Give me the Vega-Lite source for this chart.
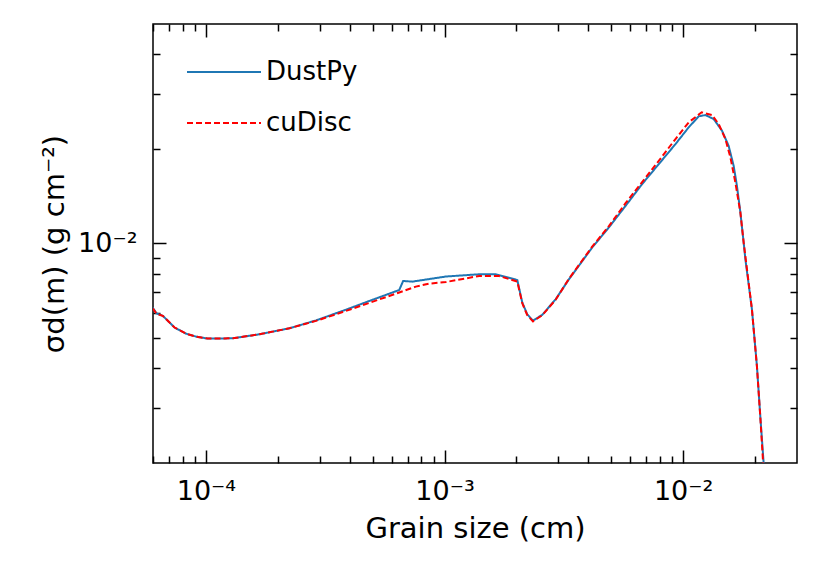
{
  "$schema": "https://vega.github.io/schema/vega-lite/v6.json",
  "width": 644,
  "height": 439,
  "autosize": {"type": "none"},
  "padding": {"left": 153, "top": 24, "right": 25, "bottom": 113},
  "background": "white",
  "config": {
    "view": {"stroke": "black", "strokeWidth": 1.5},
    "font": "DejaVu Sans",
    "axis": {
      "grid": false,
      "domain": false,
      "tickColor": "black",
      "tickWidth": 1.5,
      "labelFont": "DejaVu Sans",
      "labelFontSize": 27,
      "labelColor": "black",
      "titleFont": "DejaVu Sans",
      "titleFontSize": 29,
      "titleFontWeight": "normal",
      "titleColor": "black",
      "labelOverlap": false,
      "labelBound": false,
      "labelFlush": false
    }
  },
  "datasets": {
    "curves": [
      {"size": 5.98e-5, "sigma": 6.25e-3, "code": "DustPy"},
      {"size": 6.21e-5, "sigma": 5.99e-3, "code": "DustPy"},
      {"size": 6.60e-5, "sigma": 5.88e-3, "code": "DustPy"},
      {"size": 6.82e-5, "sigma": 5.74e-3, "code": "DustPy"},
      {"size": 7.39e-5, "sigma": 5.40e-3, "code": "DustPy"},
      {"size": 8.27e-5, "sigma": 5.16e-3, "code": "DustPy"},
      {"size": 9.11e-5, "sigma": 5.05e-3, "code": "DustPy"},
      {"size": 1.018e-4, "sigma": 4.98e-3, "code": "DustPy"},
      {"size": 1.296e-4, "sigma": 4.99e-3, "code": "DustPy"},
      {"size": 1.676e-4, "sigma": 5.14e-3, "code": "DustPy"},
      {"size": 2.238e-4, "sigma": 5.37e-3, "code": "DustPy"},
      {"size": 2.893e-4, "sigma": 5.69e-3, "code": "DustPy"},
      {"size": 3.740e-4, "sigma": 6.10e-3, "code": "DustPy"},
      {"size": 4.835e-4, "sigma": 6.56e-3, "code": "DustPy"},
      {"size": 6.457e-4, "sigma": 7.11e-3, "code": "DustPy"},
      {"size": 6.71e-4, "sigma": 7.60e-3, "code": "DustPy"},
      {"size": 7.32e-4, "sigma": 7.56e-3, "code": "DustPy"},
      {"size": 1.013e-3, "sigma": 7.85e-3, "code": "DustPy"},
      {"size": 1.396e-3, "sigma": 7.98e-3, "code": "DustPy"},
      {"size": 1.639e-3, "sigma": 7.98e-3, "code": "DustPy"},
      {"size": 2.018e-3, "sigma": 7.65e-3, "code": "DustPy"},
      {"size": 2.118e-3, "sigma": 6.48e-3, "code": "DustPy"},
      {"size": 2.222e-3, "sigma": 5.95e-3, "code": "DustPy"},
      {"size": 2.348e-3, "sigma": 5.68e-3, "code": "DustPy"},
      {"size": 2.568e-3, "sigma": 5.93e-3, "code": "DustPy"},
      {"size": 2.921e-3, "sigma": 6.64e-3, "code": "DustPy"},
      {"size": 3.321e-3, "sigma": 7.69e-3, "code": "DustPy"},
      {"size": 3.658e-3, "sigma": 8.50e-3, "code": "DustPy"},
      {"size": 4.157e-3, "sigma": 9.71e-3, "code": "DustPy"},
      {"size": 4.883e-3, "sigma": 1.125e-2, "code": "DustPy"},
      {"size": 5.737e-3, "sigma": 1.318e-2, "code": "DustPy"},
      {"size": 6.730e-3, "sigma": 1.546e-2, "code": "DustPy"},
      {"size": 7.904e-3, "sigma": 1.790e-2, "code": "DustPy"},
      {"size": 9.285e-3, "sigma": 2.073e-2, "code": "DustPy"},
      {"size": 1.055e-2, "sigma": 2.344e-2, "code": "DustPy"},
      {"size": 1.162e-2, "sigma": 2.541e-2, "code": "DustPy"},
      {"size": 1.240e-2, "sigma": 2.565e-2, "code": "DustPy"},
      {"size": 1.343e-2, "sigma": 2.490e-2, "code": "DustPy"},
      {"size": 1.455e-2, "sigma": 2.286e-2, "code": "DustPy"},
      {"size": 1.551e-2, "sigma": 2.047e-2, "code": "DustPy"},
      {"size": 1.628e-2, "sigma": 1.768e-2, "code": "DustPy"},
      {"size": 1.680e-2, "sigma": 1.527e-2, "code": "DustPy"},
      {"size": 1.737e-2, "sigma": 1.256e-2, "code": "DustPy"},
      {"size": 1.793e-2, "sigma": 1.007e-2, "code": "DustPy"},
      {"size": 1.823e-2, "sigma": 8.91e-3, "code": "DustPy"},
      {"size": 1.942e-2, "sigma": 6.17e-3, "code": "DustPy"},
      {"size": 2.038e-2, "sigma": 4.07e-3, "code": "DustPy"},
      {"size": 2.105e-2, "sigma": 2.82e-3, "code": "DustPy"},
      {"size": 2.174e-2, "sigma": 2.003e-3, "code": "DustPy"},
      {"size": 2.19e-2, "sigma": 1.9e-3, "code": "DustPy"},
      {"size": 5.98e-5, "sigma": 6.22e-3, "code": "cuDisc"},
      {"size": 6.21e-5, "sigma": 5.97e-3, "code": "cuDisc"},
      {"size": 6.60e-5, "sigma": 5.88e-3, "code": "cuDisc"},
      {"size": 6.82e-5, "sigma": 5.74e-3, "code": "cuDisc"},
      {"size": 7.39e-5, "sigma": 5.40e-3, "code": "cuDisc"},
      {"size": 8.27e-5, "sigma": 5.16e-3, "code": "cuDisc"},
      {"size": 9.11e-5, "sigma": 5.05e-3, "code": "cuDisc"},
      {"size": 1.018e-4, "sigma": 4.98e-3, "code": "cuDisc"},
      {"size": 1.296e-4, "sigma": 4.99e-3, "code": "cuDisc"},
      {"size": 1.676e-4, "sigma": 5.14e-3, "code": "cuDisc"},
      {"size": 2.238e-4, "sigma": 5.37e-3, "code": "cuDisc"},
      {"size": 2.893e-4, "sigma": 5.67e-3, "code": "cuDisc"},
      {"size": 3.740e-4, "sigma": 6.05e-3, "code": "cuDisc"},
      {"size": 4.835e-4, "sigma": 6.47e-3, "code": "cuDisc"},
      {"size": 6.457e-4, "sigma": 6.98e-3, "code": "cuDisc"},
      {"size": 7.58e-4, "sigma": 7.29e-3, "code": "cuDisc"},
      {"size": 8.62e-4, "sigma": 7.45e-3, "code": "cuDisc"},
      {"size": 1.013e-3, "sigma": 7.54e-3, "code": "cuDisc"},
      {"size": 1.396e-3, "sigma": 7.88e-3, "code": "cuDisc"},
      {"size": 1.692e-3, "sigma": 7.88e-3, "code": "cuDisc"},
      {"size": 2.018e-3, "sigma": 7.56e-3, "code": "cuDisc"},
      {"size": 2.118e-3, "sigma": 6.45e-3, "code": "cuDisc"},
      {"size": 2.222e-3, "sigma": 5.91e-3, "code": "cuDisc"},
      {"size": 2.348e-3, "sigma": 5.65e-3, "code": "cuDisc"},
      {"size": 2.568e-3, "sigma": 5.91e-3, "code": "cuDisc"},
      {"size": 2.921e-3, "sigma": 6.62e-3, "code": "cuDisc"},
      {"size": 3.321e-3, "sigma": 7.72e-3, "code": "cuDisc"},
      {"size": 4.157e-3, "sigma": 9.77e-3, "code": "cuDisc"},
      {"size": 4.883e-3, "sigma": 1.136e-2, "code": "cuDisc"},
      {"size": 5.737e-3, "sigma": 1.344e-2, "code": "cuDisc"},
      {"size": 6.730e-3, "sigma": 1.569e-2, "code": "cuDisc"},
      {"size": 7.904e-3, "sigma": 1.834e-2, "code": "cuDisc"},
      {"size": 9.285e-3, "sigma": 2.151e-2, "code": "cuDisc"},
      {"size": 1.055e-2, "sigma": 2.431e-2, "code": "cuDisc"},
      {"size": 1.196e-2, "sigma": 2.617e-2, "code": "cuDisc"},
      {"size": 1.321e-2, "sigma": 2.565e-2, "code": "cuDisc"},
      {"size": 1.409e-2, "sigma": 2.401e-2, "code": "cuDisc"},
      {"size": 1.503e-2, "sigma": 2.151e-2, "code": "cuDisc"},
      {"size": 1.577e-2, "sigma": 1.884e-2, "code": "cuDisc"},
      {"size": 1.655e-2, "sigma": 1.565e-2, "code": "cuDisc"},
      {"size": 1.737e-2, "sigma": 1.256e-2, "code": "cuDisc"},
      {"size": 1.793e-2, "sigma": 1.007e-2, "code": "cuDisc"},
      {"size": 1.942e-2, "sigma": 6.17e-3, "code": "cuDisc"},
      {"size": 2.038e-2, "sigma": 4.06e-3, "code": "cuDisc"},
      {"size": 2.105e-2, "sigma": 2.81e-3, "code": "cuDisc"},
      {"size": 2.163e-2, "sigma": 2.007e-3, "code": "cuDisc"},
      {"size": 2.18e-2, "sigma": 1.9e-3, "code": "cuDisc"}
    ]
  },
  "data": {"name": "curves"},
  "layer": [
    {
      "mark": {"type": "line", "strokeWidth": 2, "clip": true},
      "encoding": {
        "x": {
          "field": "size",
          "type": "quantitative",
          "scale": {"type": "log", "domain": [6e-5, 0.03], "nice": false},
          "axis": {
            "orient": "bottom",
            "title": "Grain size (cm)",
            "titlePadding": 4,
            "values": [6e-5, 7e-5, 8e-5, 9e-5, 1e-4, 2e-4, 3e-4, 4e-4, 5e-4, 6e-4, 7e-4, 8e-4, 9e-4, 1e-3, 2e-3, 3e-3, 4e-3, 5e-3, 6e-3, 7e-3, 8e-3, 9e-3, 1e-2, 2e-2],
            "labelExpr": "abs(datum.value - 1e-4) < 1e-9 ? '10⁻⁴' : abs(datum.value - 1e-3) < 1e-8 ? '10⁻³' : abs(datum.value - 1e-2) < 1e-7 ? '10⁻²' : ''",
            "tickSize": {"condition": {"test": "abs(datum.value - 1e-4) < 1e-9 || abs(datum.value - 1e-3) < 1e-8 || abs(datum.value - 1e-2) < 1e-7", "value": -13}, "value": -7},
            "labelPadding": 28
          }
        },
        "y": {
          "field": "sigma",
          "type": "quantitative",
          "scale": {"type": "log", "domain": [0.002, 0.05], "nice": false},
          "axis": {
            "orient": "left",
            "title": "σd(m)  (g cm⁻²)",
            "titlePadding": 8,
            "values": [3e-3, 4e-3, 5e-3, 6e-3, 7e-3, 8e-3, 9e-3, 1e-2, 2e-2, 3e-2, 4e-2],
            "labelExpr": "abs(datum.value - 1e-2) < 1e-7 ? '10⁻²' : ''",
            "tickSize": {"condition": {"test": "abs(datum.value - 1e-2) < 1e-7", "value": -13}, "value": -7},
            "labelPadding": 29
          }
        },
        "color": {
          "field": "code",
          "type": "nominal",
          "scale": {"domain": ["DustPy", "cuDisc"], "range": ["#1f77b4", "#ff0000"]},
          "legend": {
            "title": null,
            "orient": "none",
            "legendX": 33,
            "legendY": 10,
            "symbolType": "stroke",
            "symbolSize": 5476,
            "symbolStrokeWidth": 2,
            "labelFont": "DejaVu Sans",
            "labelFontSize": 26,
            "labelColor": "black",
            "labelOffset": 4,
            "rowPadding": 0
          }
        },
        "strokeDash": {
          "field": "code",
          "type": "nominal",
          "scale": {"domain": ["DustPy", "cuDisc"], "range": [[1, 0], [6, 3]]},
          "legend": null
        }
      }
    },
    {
      "mark": {"type": "line", "strokeOpacity": 0, "clip": true},
      "encoding": {
        "x": {
          "field": "size",
          "type": "quantitative",
          "scale": {"type": "log", "domain": [6e-5, 0.03], "nice": false},
          "axis": {
            "orient": "top",
            "title": null,
            "labels": false,
            "values": [6e-5, 7e-5, 8e-5, 9e-5, 1e-4, 2e-4, 3e-4, 4e-4, 5e-4, 6e-4, 7e-4, 8e-4, 9e-4, 1e-3, 2e-3, 3e-3, 4e-3, 5e-3, 6e-3, 7e-3, 8e-3, 9e-3, 1e-2, 2e-2],
            "tickSize": {"condition": {"test": "abs(datum.value - 1e-4) < 1e-9 || abs(datum.value - 1e-3) < 1e-8 || abs(datum.value - 1e-2) < 1e-7", "value": -13}, "value": -7}
          }
        },
        "y": {
          "field": "sigma",
          "type": "quantitative",
          "scale": {"type": "log", "domain": [0.002, 0.05], "nice": false},
          "axis": {
            "orient": "right",
            "title": null,
            "labels": false,
            "values": [3e-3, 4e-3, 5e-3, 6e-3, 7e-3, 8e-3, 9e-3, 1e-2, 2e-2, 3e-2, 4e-2],
            "tickSize": {"condition": {"test": "abs(datum.value - 1e-2) < 1e-7", "value": -13}, "value": -7}
          }
        }
      }
    }
  ],
  "resolve": {"axis": {"x": "independent", "y": "independent"}}
}
